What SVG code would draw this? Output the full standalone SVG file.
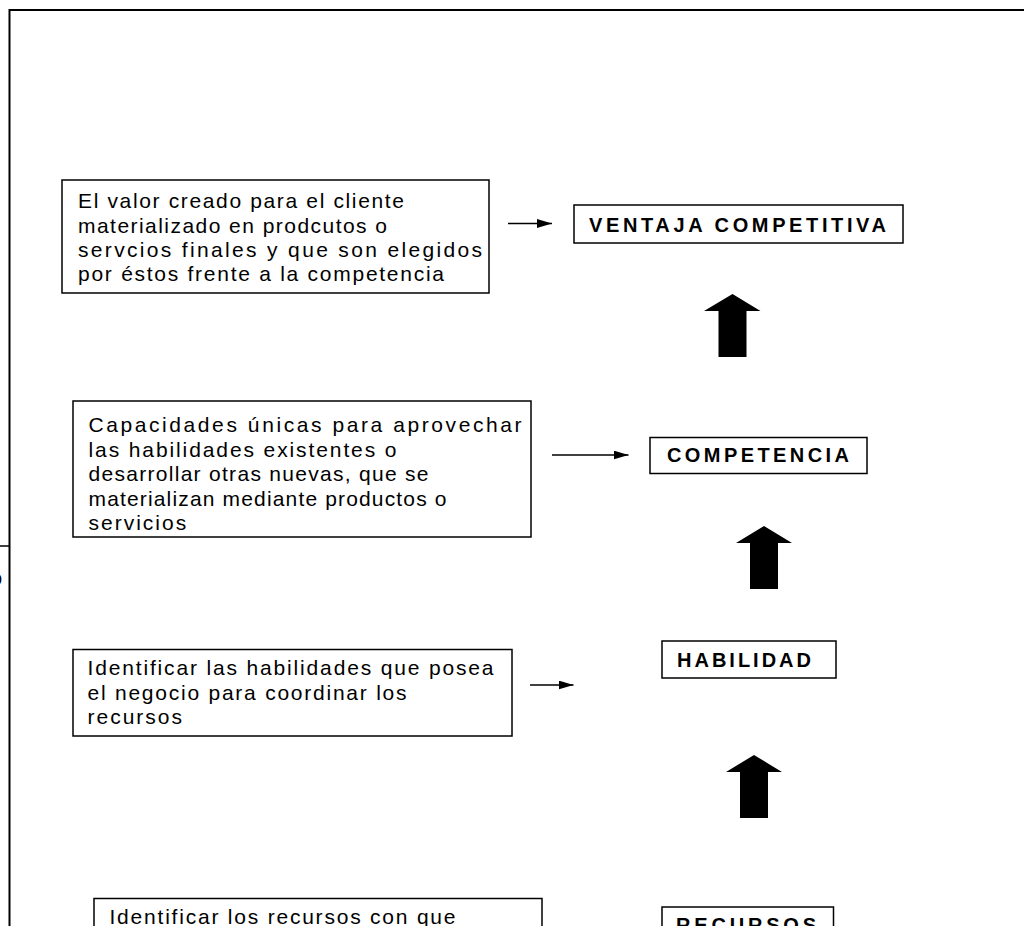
<svg xmlns="http://www.w3.org/2000/svg" width="1024" height="926" viewBox="0 0 1024 926">
  <style>
    .frame { fill: none; stroke: #000; stroke-width: 2; }
    .box { fill: #fff; stroke: #000; stroke-width: 1.5; }
    .txt { font-family: "Liberation Sans", Arial, sans-serif; font-size: 21px; fill: #000; letter-spacing: 2px; }
    .lbl { font-family: "Liberation Sans", Arial, sans-serif; font-size: 20px; font-weight: bold; fill: #000; }
    .link { stroke: #000; stroke-width: 1.3; fill: none; marker-end: url(#head); }
    .block { fill: #000; }
  </style>
  <defs>
    <marker id="head" markerUnits="userSpaceOnUse" markerWidth="15" markerHeight="9" refX="15" refY="4.5" orient="auto">
      <path d="M0,0 L15,4.5 L0,9 z" fill="#000"/>
    </marker>
  </defs>

  <rect width="1024" height="926" fill="#fff"/>

  <!-- page frame -->
  <g id="frame">
    <path class="frame" d="M9.5,926 V10 H1026"/>
    <line x1="0" y1="546" x2="9.5" y2="546" stroke="#000" stroke-width="1.5"/>
    <text class="txt" x="-9.5" y="585" font-size="28">o</text>
  </g>

  <!-- description: competitive advantage -->
  <g id="desc-ventaja">
    <rect class="box" x="62" y="180" width="427" height="113"/>
    <text class="txt" x="78" y="208" textLength="328" lengthAdjust="spacing">El valor creado para el cliente</text>
    <text class="txt" x="78" y="232.5" textLength="311" lengthAdjust="spacing">materializado en prodcutos o</text>
    <text class="txt" x="78" y="257" textLength="406" lengthAdjust="spacing">servcios finales y que son elegidos</text>
    <text class="txt" x="78" y="281" textLength="368" lengthAdjust="spacing">por éstos frente a la competencia</text>
  </g>

  <g id="ventaja">
    <rect class="box" x="574" y="205" width="329" height="38"/>
    <text class="lbl" x="589" y="231.5" textLength="297" lengthAdjust="spacing">VENTAJA COMPETITIVA</text>
  </g>

  <!-- description: competence -->
  <g id="desc-competencia">
    <rect class="box" x="73" y="401" width="458" height="136"/>
    <text class="txt" x="88.5" y="432" textLength="435" lengthAdjust="spacing">Capacidades únicas para aprovechar</text>
    <text class="txt" x="88.5" y="456.5" textLength="310" lengthAdjust="spacing">las habilidades existentes o</text>
    <text class="txt" x="88.5" y="481" textLength="342" lengthAdjust="spacing">desarrollar otras nuevas, que se</text>
    <text class="txt" x="88.5" y="505.5" textLength="360" lengthAdjust="spacing">materializan mediante productos o</text>
    <text class="txt" x="88.5" y="530">servicios</text>
  </g>

  <g id="competencia">
    <rect class="box" x="650" y="437.5" width="217" height="36"/>
    <text class="lbl" x="667" y="462.3" textLength="182" lengthAdjust="spacing">COMPETENCIA</text>
  </g>

  <!-- description: skill -->
  <g id="desc-habilidad">
    <rect class="box" x="73" y="649.5" width="439" height="86.5"/>
    <text class="txt" x="87.5" y="675" textLength="408" lengthAdjust="spacing">Identificar las habilidades que posea</text>
    <text class="txt" x="87.5" y="699.5" textLength="321" lengthAdjust="spacing">el negocio para coordinar los</text>
    <text class="txt" x="87.5" y="724">recursos</text>
  </g>

  <g id="habilidad">
    <rect class="box" x="662" y="641" width="174" height="37"/>
    <text class="lbl" x="677" y="666.7" textLength="134" lengthAdjust="spacing">HABILIDAD</text>
  </g>

  <!-- description: resources -->
  <g id="desc-recursos">
    <rect class="box" x="94" y="898.5" width="448" height="40"/>
    <text class="txt" x="109.5" y="924" textLength="348" lengthAdjust="spacing">Identificar los recursos con que</text>
  </g>

  <g id="recursos">
    <rect class="box" x="662" y="907" width="171.5" height="40"/>
    <text class="lbl" x="676" y="932" textLength="140" lengthAdjust="spacing">RECURSOS</text>
  </g>

  <!-- connectors -->
  <g id="connectors">
    <line class="link" x1="508" y1="223.5" x2="552" y2="223.5"/>
    <line class="link" x1="552" y1="455" x2="628.5" y2="455"/>
    <line class="link" x1="530" y1="685" x2="573.5" y2="685"/>

    <polygon class="block" points="732.5,294 760.5,311 746.5,311 746.5,357 718.5,357 718.5,311 704,311"/>
    <polygon class="block" points="764,526 792,543 778,543 778,589 750,589 750,543 736,543"/>
    <polygon class="block" points="754,755 782,772 768,772 768,818 740,818 740,772 726,772"/>
  </g>
</svg>
